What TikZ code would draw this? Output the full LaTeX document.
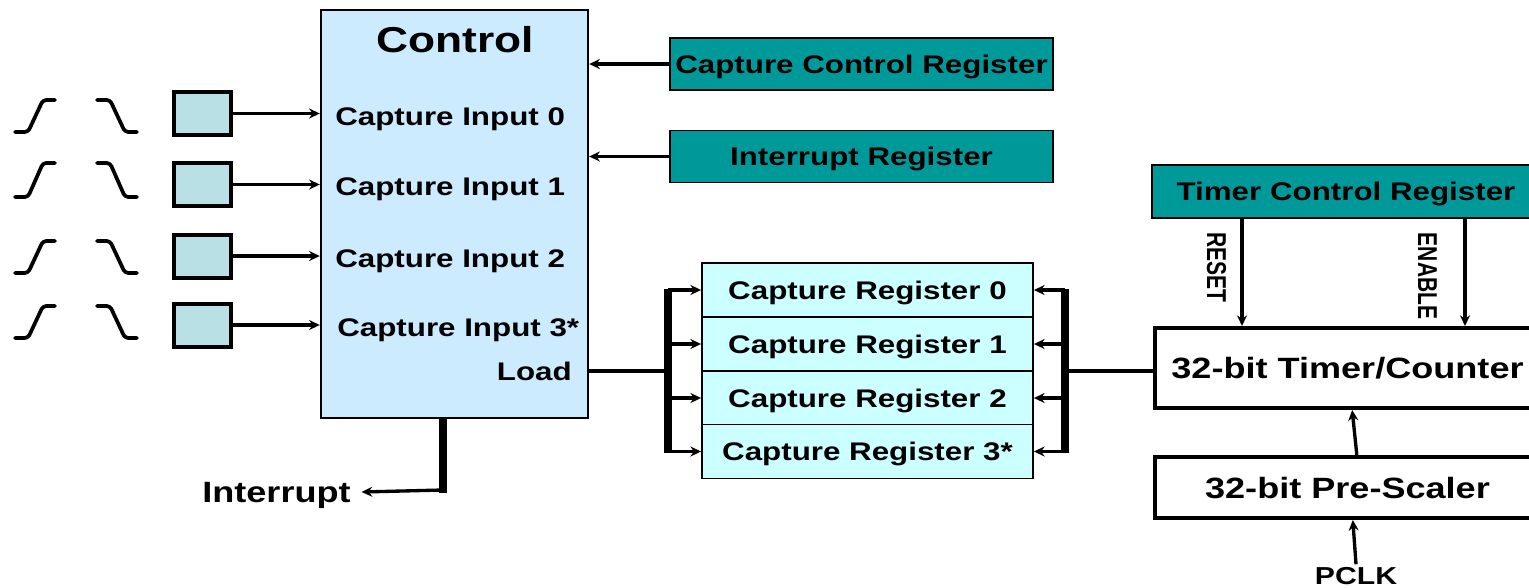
\documentclass[tikz,border=0pt]{standalone}
\usepackage{fontspec}
\setmainfont{Liberation Sans}[FakeStretch=1.23]
\newfontfamily\rotfont{Liberation Sans}
\usetikzlibrary{arrows.meta,calc}
\definecolor{ctrlblue}{RGB}{204,235,255}
\definecolor{inboxc}{RGB}{185,224,228}
\definecolor{tealc}{RGB}{0,153,153}
\definecolor{regcyan}{RGB}{204,255,255}
\begin{document}
\begin{tikzpicture}[x=0.75pt,y=-0.75pt,
  txt/.style={font=\bfseries\fontsize{19.1pt}{22pt}\selectfont, text=black, inner sep=0pt, text height=13.7pt, text depth=0pt},
  bigtxt/.style={font=\bfseries\fontsize{22pt}{26pt}\selectfont, text=black, inner sep=0pt, text height=15.75pt, text depth=0pt},
  ctrlbox/.style={draw=black, line width=1.8pt, fill=ctrlblue, minimum width=200.25pt, minimum height=306pt, inner sep=0pt},
  inbox/.style={draw=black, line width=3pt, fill=inboxc, minimum width=42.75pt, minimum height=32.25pt, inner sep=0pt},
  tealbox/.style={txt, draw=black, line width=1.4pt, fill=tealc, minimum width=287.25pt, minimum height=39pt},
  regbox/.style={txt, draw=black, line width=1.4pt, fill=regcyan, minimum width=248.25pt, minimum height=40.5pt},
  tcrbox/.style={txt, draw=black, line width=1.4pt, fill=tealc, minimum width=291pt, minimum height=39.75pt},
  whitebox/.style={bigtxt, draw=black, line width=3pt, fill=white, minimum width=288.75pt},
  arr/.style={draw=black, line width=2.5pt, -{Stealth[length=8pt,width=7.5pt]}},
  vbus/.style={draw=black, line width=5.5pt},
  hbus/.style={draw=black, line width=3.5pt},
  edge/.style={draw=black, line width=2.8pt, line join=round, line cap=round, rounded corners=2.5pt},
  rottxt/.style={font=\rotfont\bfseries\fontsize{15.75pt}{18pt}\selectfont, text=black, inner sep=0pt, rotate=-90}
]
\clip (0,0) rectangle (1529,587);
\fill[white] (0,0) rectangle (1529,587);

% Control block
\node[ctrlbox] (ctrl) at (454.5,214) {};
\node[font=\bfseries\fontsize{27pt}{30pt}\selectfont, inner sep=0pt, text height=19.3pt, text depth=0pt] (ctrltitle) at (455,40) {Control};
\node[txt, anchor=west] (ci0) at (335,116) {Capture Input 0};
\node[txt, anchor=west] (ci1) at (335,186) {Capture Input 1};
\node[txt, anchor=west] (ci2) at (335,258) {Capture Input 2};
\node[txt, anchor=west] (ci3) at (337,327) {Capture Input 3*};
\node[txt, anchor=east] (load) at (572,371) {Load};

% edge symbols and input boxes
\foreach \t/\b in {100/132, 163/197, 241/273, 306/338}{
  \draw[edge] (15,\b) -- (28,\b) -- (43,\t) -- (55,\t);
  \draw[edge] (97,\t) -- (110,\t) -- (125,\b) -- (137,\b);
}
\node[inbox] (b0) at (202.5,113.5) {};
\node[inbox] (b1) at (202.5,184.5) {};
\node[inbox] (b2) at (202.5,256) {};
\node[inbox] (b3) at (202.5,325) {};
\foreach \i in {0,1,2,3}{
  \draw[arr] (b\i.east) -- (b\i.east -| ctrl.west);
}

% registers feeding control
\node[tealbox] (ccr) at (861.5,64) {Capture Control Register};
\node[tealbox] (ir) at (861.5,156.5) {Interrupt Register};
\draw[arr] (ccr.west) -- (ccr.west -| ctrl.east);
\draw[arr] (ir.west) -- (ir.west -| ctrl.east);

% capture registers
\node[regbox] (reg0) at (867.5,290) {Capture Register 0};
\node[regbox] (reg1) at (867.5,344) {Capture Register 1};
\node[regbox] (reg2) at (867.5,398) {Capture Register 2};
\node[regbox] (reg3) at (867.5,451.5) {Capture Register 3*};

% left bus
\coordinate (bl) at (668,371);
\draw[hbus] (load.east -| ctrl.east) -- (bl);
\draw[vbus] ($(reg0.west -| bl)+(0,-1.5)$) -- ($(reg3.west -| bl)+(0,1.5)$);
\foreach \i in {0,1,2,3}{
  \draw[arr] (reg\i.west -| bl) -- (reg\i.west);
}

% timer section
\node[tcrbox] (tcr) at (1346,191.5) {Timer Control Register};
\node[whitebox, minimum height=60pt] (timer) at (1347.5,368) {32-bit Timer/Counter};
\node[whitebox, minimum height=45.75pt] (pre) at (1347.5,487.5) {32-bit Pre-Scaler};
\node[txt, font=\bfseries\fontsize{18.4pt}{21pt}\selectfont, text height=13.2pt] (pclk) at (1356,576) {PCLK};

% right bus
\coordinate (br) at (1065,371);
\draw[hbus] (br) -- (br -| timer.west);
\draw[vbus] ($(reg0.east -| br)+(0,-1.5)$) -- ($(reg3.east -| br)+(0,1.5)$);
\foreach \i in {0,1,2,3}{
  \draw[arr] (reg\i.east -| br) -- (reg\i.east);
}

% reset / enable
\coordinate (rs) at (1242,0);
\coordinate (en) at (1465,0);
\draw[arr] (tcr.south -| rs) -- (timer.north -| rs);
\draw[arr] (tcr.south -| en) -- (timer.north -| en);
\node[rottxt] (reset) at (1216.5,267.5) {\scalebox{1}[1.3]{RESET}};
\node[rottxt] (enable) at (1427.5,276) {\scalebox{1}[1.3]{ENABLE}};

% prescaler and clock
\draw[arr] ([xshift=7pt]pre.north) -- ([xshift=3.5pt]timer.south);
\draw[arr] ([yshift=2pt]pclk.north) -- ([xshift=4pt]pre.south);

% interrupt
\node[bigtxt] (intl) at (276.5,492) {Interrupt};
\coordinate (intc) at (443,490);
\draw[vbus] (ctrl.south -| intc) -- ($(intc)+(0,2.6)$);
\draw[arr] (intc) -- ([xshift=8pt]intl.east);
\end{tikzpicture}
\end{document}
